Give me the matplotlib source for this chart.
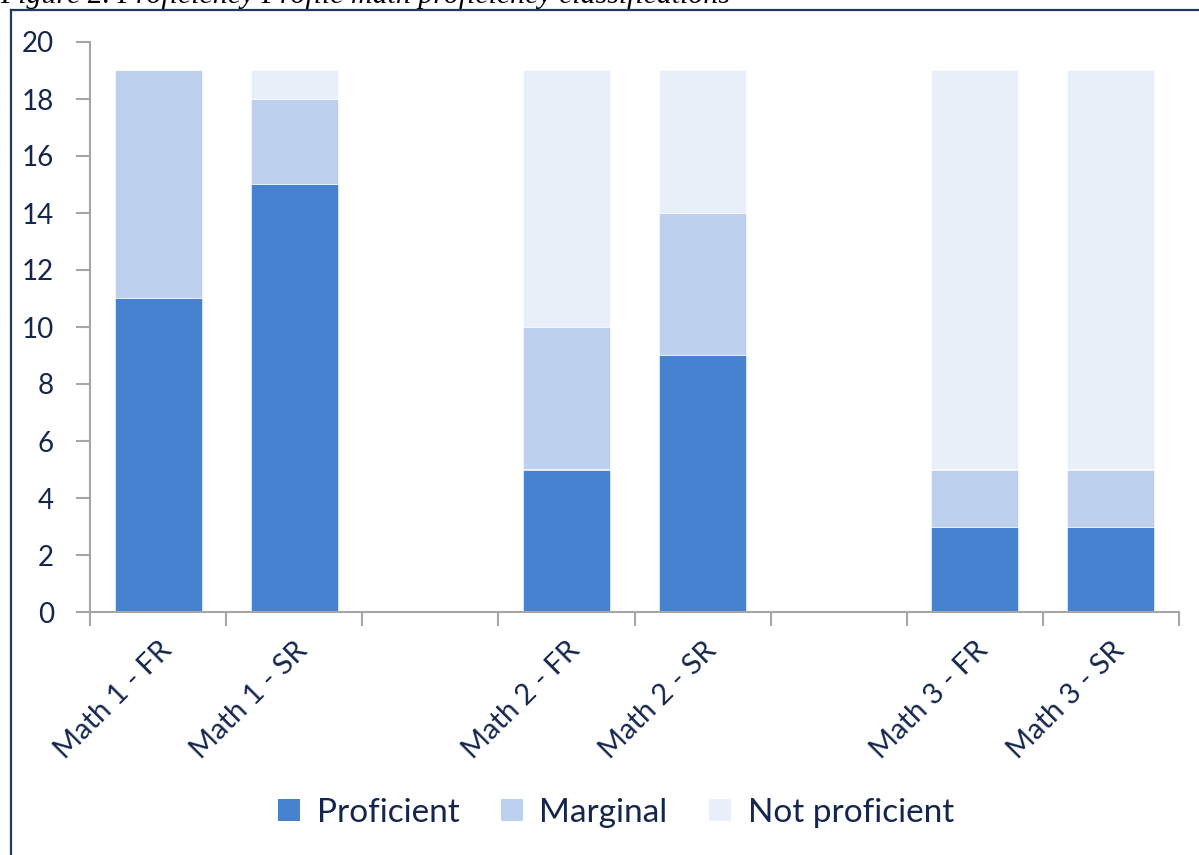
import matplotlib
matplotlib.use("Agg")
import matplotlib.pyplot as plt
from matplotlib.lines import Line2D
from matplotlib.patches import Patch
import numpy as np

categories = ["Math 1 - FR", "Math 1 - SR", "", "Math 2 - FR", "Math 2 - SR", "", "Math 3 - FR", "Math 3 - SR"]
proficient = [11, 15, 0, 5, 9, 0, 3, 3]
marginal = [8, 3, 0, 5, 5, 0, 2, 2]
not_proficient = [0, 1, 0, 9, 5, 0, 14, 14]
series_names = ["Proficient", "Marginal", "Not proficient"]
colors = ["#4682D0", "#BDD1EE", "#E8EFF9"]
yticks = [0, 2, 4, 6, 8, 10, 12, 14, 16, 18, 20]
caption = "Figure 2. Proficiency Profile math proficiency classifications"

text_color = "#15264E"
font = "Lato"

W, H = 1199, 855
fig = plt.figure(figsize=(W / 100, H / 100), dpi=100)
ax = fig.add_axes([90 / W, 1 - 612 / H, (1179 - 90) / W, (612 - 42) / H])

x = np.arange(len(categories))
bw = 0.64
b1 = np.array(proficient)
b2 = b1 + np.array(marginal)
ax.bar(x, proficient, bw, color=colors[0], edgecolor="white", linewidth=0.4, zorder=2)
ax.bar(x, marginal, bw, bottom=b1, color=colors[1], edgecolor="white", linewidth=0.4, zorder=2)
ax.bar(x, not_proficient, bw, bottom=b2, color=colors[2], edgecolor="white", linewidth=0.4, zorder=2)

ax.set_xlim(-0.5, len(categories) - 0.5)
ax.set_ylim(0, 20)
ax.set_yticks(yticks)
ax.set_yticklabels([str(v) for v in yticks], fontsize=20, color=text_color, family=font)
ax.tick_params(axis="y", length=10, width=1.5, color="#A6A6A6", pad=16)

ax.set_xticks(np.arange(-0.5, len(categories), 1.0))
ax.set_xticklabels([])
ax.tick_params(axis="x", which="major", length=10, width=1.5, color="#A6A6A6")
ax.set_xticks(x, minor=True)
ax.set_xticklabels(categories, minor=True, rotation=45, ha="right", va="top",
                   rotation_mode="anchor", fontsize=21, color=text_color, family=font)
ax.tick_params(axis="x", which="minor", length=0, pad=18)

for s in ["top", "right"]:
    ax.spines[s].set_visible(False)
for s in ["left", "bottom"]:
    ax.spines[s].set_color("#A6A6A6")
    ax.spines[s].set_linewidth(1.5)

handles = [Patch(facecolor=c, edgecolor="none") for c in colors]
fig.legend(handles, series_names, loc="center", bbox_to_anchor=(616 / W, 1 - 813 / H),
           ncol=3, frameon=False, prop={"family": font, "size": 24},
           labelcolor=text_color, handlelength=0.65, handleheight=0.65,
           handletextpad=0.5, columnspacing=1.25)

# outer frame (left and top edges visible)
fig.add_artist(Line2D([11 / W, 11 / W], [0, 1 - 10 / H], transform=fig.transFigure,
                      color="#1F3864", linewidth=1.6))
fig.add_artist(Line2D([11 / W, 1], [1 - 10 / H, 1 - 10 / H], transform=fig.transFigure,
                      color="#1F3864", linewidth=1.6))

fig.text(0, 1 - 3 / H, caption, family="Liberation Serif", style="italic",
         fontsize=21.5, color="black", ha="left", va="baseline")

fig.savefig("out.png", dpi=100)
